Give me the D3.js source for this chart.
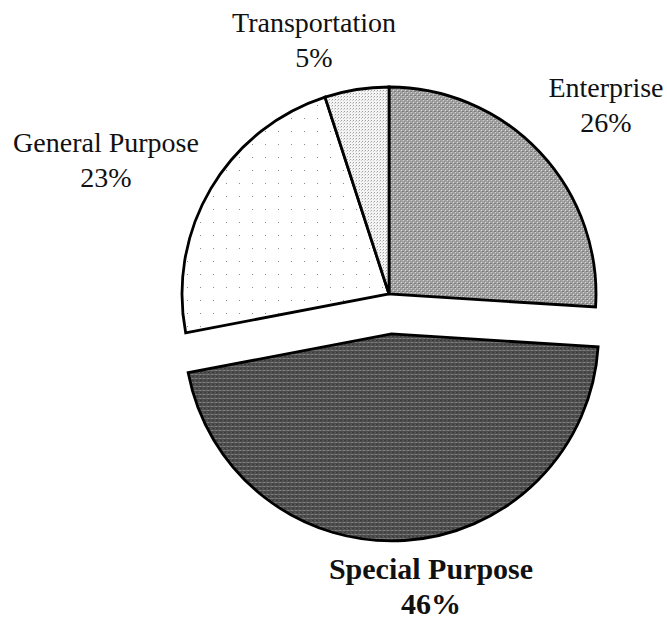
<!DOCTYPE html>
<html>
<head>
<meta charset="utf-8">
<script src="https://cdn.jsdelivr.net/npm/d3@7"></script>
<style>
  body { margin: 0; background: #fff; }
  svg { display: block; }
</style>
</head>
<body>
<div id="chart"></div>
<script>
// data (share of total, in %)
var categories = ["Enterprise", "Special Purpose", "General Purpose", "Transportation"];
var shares = [26, 46, 23, 5];
var shareLabels = ["26%", "46%", "23%", "5%"];

// layout
var width = 667, height = 622;
var cx = 389, cy = 294;
var radius = 207;
var explode = { "Special Purpose": 40 };
// label blocks: first baseline position for each category
var labelAt = {
  "Enterprise": [606, 97],
  "Special Purpose": [431, 579],
  "General Purpose": [106, 152],
  "Transportation": [314, 32]
};
var lineGap = 35;
var serif = "'Liberation Serif', 'Times New Roman', Times, 'DejaVu Serif', serif";

var svg = d3.select("#chart")
  .append("svg")
  .attr("width", width)
  .attr("height", height);

svg.append("rect").attr("width", width).attr("height", height).attr("fill", "#fff");

//patterns that imitate the printed fills
var defs = svg.append("defs");

function makePattern(id, size, bg, dots) {
  var p = defs.append("pattern")
    .attr("id", id)
    .attr("patternUnits", "userSpaceOnUse")
    .attr("width", size)
    .attr("height", size);
  p.append("rect").attr("width", size).attr("height", size).attr("fill", bg);
  dots.forEach(function(d) {
    p.append("rect")
      .attr("x", d[0]).attr("y", d[1])
      .attr("width", d[2]).attr("height", 1)
      .attr("fill", d[3]);
  });
}

makePattern("pat-ent", 4, "#a2a2a2", [
  [0, 0, 1, "#dcdcdc"], [2, 2, 1, "#d4d4d4"],
  [1, 1, 2, "#7c7c7c"], [3, 3, 1, "#888888"]
]);
makePattern("pat-spec", 4, "#4a4a4a", [
  [0, 0, 1, "#b8b8b8"], [2, 0, 1, "#8a8a8a"],
  [1, 2, 1, "#2a2a2a"], [3, 2, 1, "#666666"]
]);
makePattern("pat-gen", 13, "#ffffff", [
  [6, 6, 1, "#8a8a8a"]
]);
makePattern("pat-trans", 3, "#f4f4f4", [
  [0, 0, 1, "#a0a0a0"], [2, 1, 1, "#cccccc"]
]);

var fills = d3.scaleOrdinal()
  .domain(categories)
  .range(["url(#pat-ent)", "url(#pat-spec)", "url(#pat-gen)", "url(#pat-trans)"]);

var data = categories.map(function(c, i) {
  return { name: c, value: shares[i], label: shareLabels[i] };
});

var pie = d3.pie()
  .sort(null)
  .value(function(d) { return d.value; });

var arc = d3.arc()
  .innerRadius(0)
  .outerRadius(radius);

var g = svg.append("g")
  .attr("transform", "translate(" + cx + "," + cy + ")");

g.selectAll("path.slice")
  .data(pie(data))
  .enter()
  .append("path")
  .attr("class", "slice")
  .attr("transform", function(d) {
    var off = explode[d.data.name] || 0;
    var mid = (d.startAngle + d.endAngle) / 2;
    return "translate(" + (Math.sin(mid) * off) + "," + (-Math.cos(mid) * off) + ")";
  })
  .attr("d", arc)
  .attr("fill", function(d) { return fills(d.data.name); })
  .attr("stroke", "#000")
  .attr("stroke-width", 2.8)
  .attr("stroke-linejoin", "miter");

//labels, two lines each; the exploded slice gets the bold label
var labels = svg.selectAll("g.lbl-g")
  .data(data)
  .enter()
  .append("g")
  .attr("class", "lbl-g")
  .attr("transform", function(d) {
    return "translate(" + labelAt[d.name][0] + "," + labelAt[d.name][1] + ")";
  });

[0, 1].forEach(function(line) {
  labels.append("text")
    .attr("font-family", serif)
    .attr("font-size", function(d) { return explode[d.name] ? 30 : 28; })
    .attr("font-weight", function(d) { return explode[d.name] ? "bold" : "normal"; })
    .attr("fill", "#111")
    .attr("text-anchor", "middle")
    .attr("y", line * lineGap)
    .text(function(d) { return line === 0 ? d.name : d.label; });
});
</script>
</body>
</html>
